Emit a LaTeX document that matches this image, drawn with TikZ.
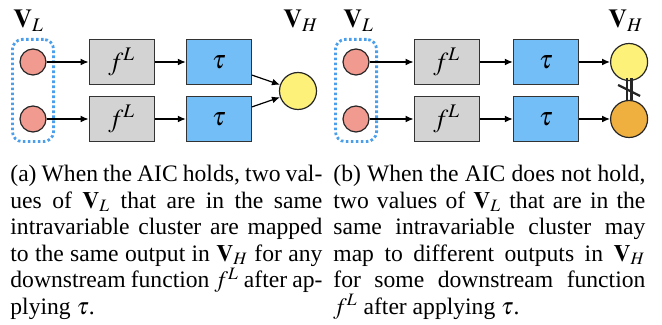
\documentclass[tikz,border=0pt]{standalone}
\usepackage{amsmath}
\usepackage{mathptmx}
\usepackage{fontspec}
\setmainfont{Liberation Serif}
\usetikzlibrary{arrows.meta,positioning,fit}

\definecolor{valpink}{HTML}{F09A90}
\definecolor{boxgray}{HTML}{D3D3D3}
\definecolor{taublue}{HTML}{74BEF7}
\definecolor{outyellow}{HTML}{FDF17A}
\definecolor{outorange}{HTML}{EFB040}
\definecolor{clusterblue}{HTML}{4A9EEA}

\begin{document}
\begin{tikzpicture}[x=0.5pt, y=-0.5pt, >={Latex[length=4pt,width=3.4pt]},
        val/.style={draw=black!85, line width=0.6pt, circle, fill=valpink, minimum size=13pt, inner sep=0pt},
        outval/.style={draw=black!85, line width=0.6pt, circle, minimum size=18.5pt, inner sep=0pt},
        fbox/.style={draw=black!80, line width=0.6pt, rectangle, fill=boxgray, minimum width=32.5pt, minimum height=22.5pt, inner sep=0pt, font=\fontsize{13}{15}\selectfont},
        taubox/.style={fbox, fill=taublue},
        cluster/.style={draw=clusterblue, line width=1.4pt, dash pattern=on 1.3pt off 1.2pt, rounded corners=5pt, inner xsep=3.5pt, inner ysep=4.5pt},
        varlabel/.style={anchor=north west, inner sep=0pt, font=\fontsize{13}{15}\selectfont},
        caption/.style={anchor=north west, inner sep=0pt, text width=156pt, align=justify, font=\fontsize{11.8}{13.25}\selectfont},
        link/.style={line width=0.6pt, ->},
        neqline/.style={line width=1.1pt, black!85}]
        \useasboundingbox (0,0) rectangle (662,325);

        % (a) AIC holds
        \node[varlabel] (vla) at (13,10) {$\mathbf{V}_L$};
        \node[varlabel] (vha) at (283,10) {$\mathbf{V}_H$};
        \node[val] (a1) at (33,62) {};
        \node[val] (a2) at (33,119) {};
        \node[cluster, fit=(a1)(a2)] (ca) {};
        \node[fbox, right=21pt of a1] (fa1) {$f^L$};
        \node[fbox, right=21pt of a2] (fa2) {$f^L$};
        \node[taubox, right=15.5pt of fa1] (ta1) {$\boldsymbol{\tau}$};
        \node[taubox, right=15.5pt of fa2] (ta2) {$\boldsymbol{\tau}$};
        \node[outval, fill=outyellow] (ya) at (298,91) {};

        \draw[link] (a1) -- (fa1);
        \draw[link] (a2) -- (fa2);
        \draw[link] (fa1) -- (ta1);
        \draw[link] (fa2) -- (ta2);
        \draw[link] ([yshift=5pt]ta1.south east) -- (ya);
        \draw[link] ([yshift=-5.5pt]ta2.north east) -- (ya);

        % (b) AIC does not hold
        \node[varlabel] (vlb) at (343,10) {$\mathbf{V}_L$};
        \node[varlabel] (vhb) at (608,10) {$\mathbf{V}_H$};
        \node[val] (b1) at (356,62) {};
        \node[val] (b2) at (356,119) {};
        \node[cluster, fit=(b1)(b2)] (cb) {};
        \node[fbox, right=22pt of b1] (fb1) {$f^L$};
        \node[fbox, right=22pt of b2] (fb2) {$f^L$};
        \node[taubox, right=16.5pt of fb1] (tb1) {$\boldsymbol{\tau}$};
        \node[taubox, right=16.5pt of fb2] (tb2) {$\boldsymbol{\tau}$};
        \node[outval, fill=outyellow, right=15.5pt of tb1] (yb) {};
        \node[outval, fill=outorange, right=15.5pt of tb2] (ob) {};

        \draw[link] (b1) -- (fb1);
        \draw[link] (b2) -- (fb2);
        \draw[link] (fb1) -- (tb1);
        \draw[link] (fb2) -- (tb2);
        \draw[link] (tb1) -- (yb);
        \draw[link] (tb2) -- (ob);

        % not-equal mark between the two outputs
        \path (yb) -- (ob) coordinate[midway] (neq);
        \draw[neqline] ([shift={(-2.3,-12)}]neq) -- ([shift={(-2.3,10)}]neq);
        \draw[neqline] ([shift={(2.3,-12)}]neq) -- ([shift={(2.3,10)}]neq);
        \draw[neqline] ([shift={(-11,-5.5)}]neq) -- ([shift={(11,5.5)}]neq);

        % Captions
        \node[caption] (capa) at (10,165) {(a) When the AIC holds, two val-\linebreak ues of $\mathbf{V}_L$ that are in the same\linebreak intravariable cluster are mapped\linebreak to the same output in $\mathbf{V}_H$ for any\linebreak downstream function $f^L$ after ap-\linebreak plying $\tau$.};
        \node[caption] (capb) at (333,165) {(b) When the AIC does not hold,\linebreak two values of $\mathbf{V}_L$ that are in the\linebreak same intravariable cluster may\linebreak map to different outputs in $\mathbf{V}_H$\linebreak for some downstream function\linebreak $f^L$ after applying $\tau$.};
    \end{tikzpicture}
\end{document}
